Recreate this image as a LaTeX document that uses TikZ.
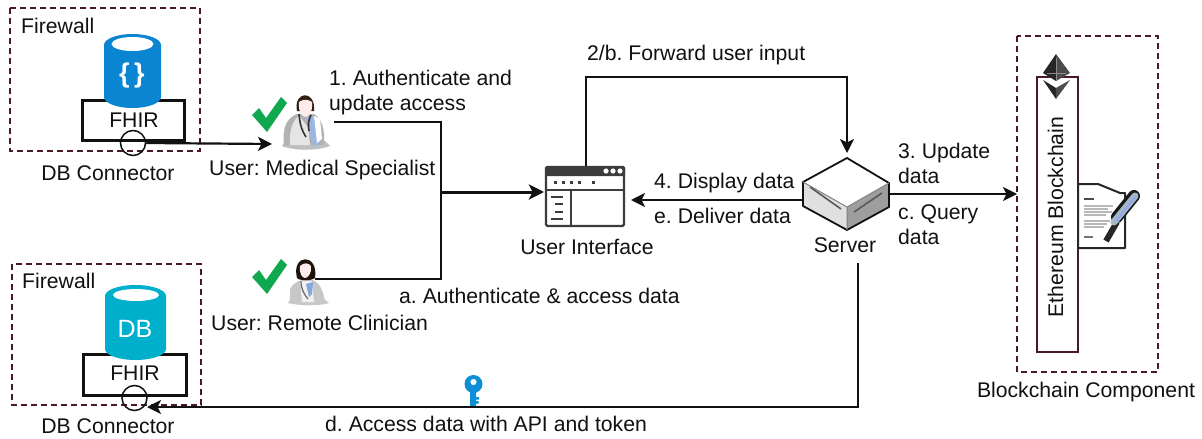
\documentclass[tikz,border=0pt]{standalone}
\usepackage{fontspec}
\setmainfont{Liberation Sans}
\usetikzlibrary{arrows.meta,calc}
\frenchspacing
\definecolor{ink}{HTML}{111111}
\definecolor{fwred}{HTML}{4A1A22}
\definecolor{dbblue}{HTML}{0A85D1}
\definecolor{dbcyan}{HTML}{00AFCB}
\definecolor{okgreen}{HTML}{0FA84E}
\definecolor{keyblue}{HTML}{0C8FD6}
\definecolor{uigrey}{HTML}{3C3C3C}
\tikzset{
  lbl/.style={anchor=base west,inner sep=0pt,font=\fontsize{21.2}{24}\selectfont,text=ink},
  clbl/.style={lbl,anchor=base},
  fw/.style={draw=fwred,line width=1.8pt,dash pattern=on 6pt off 4pt},
  wire/.style={draw=ink,line width=1.8pt},
  arr/.style={wire,-{Stealth[length=14pt,width=14pt,inset=3.5pt]}},
  fhirbox/.style={draw=ink,line width=3pt,fill=white},
  conn/.style={circle,draw=ink,line width=1.5pt,minimum size=25pt,inner sep=0pt},
  chk/.style={fill=okgreen},
}
\newcommand{\chkmark}[2]{%
  \fill[chk,shift={(#1,#2)}] (0,18) -- (7,11) -- (14,21) -- (29,0) -- (35,6) -- (15,35) -- cycle;}
\begin{document}
\begin{tikzpicture}[x=1pt,y=-1pt]
\useasboundingbox (0,0) rectangle (1202,439);
\fill[white] (0,0) rectangle (1202,439);

% ---- top-left firewall
\draw[fw] (10,8) rectangle (200,151);
\node[lbl] (fwa) at (21,33) {Firewall};
\node[fhirbox,minimum width=102pt,minimum height=40pt,inner sep=0pt] (fhira) at (133,120) {};
\fill[dbblue] (104,45) -- (104,97) arc[start angle=180,end angle=0,x radius=28.5,y radius=11] -- (161,45) arc[start angle=0,end angle=-180,x radius=28.5,y radius=11] -- cycle;
\fill[white] (132.5,44) ellipse[x radius=21,y radius=7];
\node[inner sep=0pt,text=white,font=\fontsize{27}{27}\bfseries\selectfont] (brc) at (132,76) {\{\,\}};
\node[clbl] (fhiratx) at (134,127) {FHIR};
\node[conn] (ca) at (133,143) {};
\node[clbl] (dba) at (108,180) {DB Connector};

% ---- bottom-left firewall
\draw[fw] (12,264) rectangle (201,405);
\node[lbl] (fwb) at (22,288) {Firewall};
\node[fhirbox,minimum width=103pt,minimum height=41pt,inner sep=0pt] (fhirb) at (135,375) {};
\fill[dbcyan] (105,296) -- (105,349) arc[start angle=180,end angle=0,x radius=30.5,y radius=11] -- (166,296) arc[start angle=0,end angle=-180,x radius=30.5,y radius=11] -- cycle;
\fill[white] (136,295) ellipse[x radius=23,y radius=6];
\node[clbl,text=white,font=\fontsize{25}{25}\selectfont] (dbtx) at (135,337) {DB};
\node[clbl] (fhirbtx) at (135,380) {FHIR};
\node[conn] (cb) at (134.5,398) {};
\node[clbl] (dbb) at (108,433) {DB Connector};

% ---- medical specialist
\chkmark{252}{97}
\begin{scope}[shift={(305,105)}]
  \fill[black!25] (-23,41) .. controls (-10,46) and (12,46) .. (25,41) -- (20,36) -- (-20,36) -- cycle;
  \fill[black!30] (-21,40) .. controls (-23,22) and (-18,13) .. (-8,9) -- (9,9) .. controls (17,14) and (20,24) .. (19,40) -- cycle;
  \fill[black!10] (-15,40) .. controls (-16,25) and (-12,15) .. (-6,11) -- (3,22) -- (5,40) -- cycle;
  \fill[cyan!50!blue!40] (1,13) -- (11,11) -- (14,38) -- (9,42) -- cycle;
  \fill[white] (9,11) -- (15,14) -- (17,34) -- (12,38) -- cycle;
  \draw[black!80,line width=1.6pt] (-6,9) .. controls (-5,22) and (-2,27) .. (1,32);
  \draw[black!80,line width=1.6pt] (6,10) .. controls (3,16) and (3,20) .. (4,26);
  \fill[black!75!brown] (-8,6) .. controls (-12,-14) and (11,-16) .. (9,6) -- cycle;
  \fill[red!8!white] (-6,-3) .. controls (-2,-6) and (3,-6) .. (7,-3) .. controls (8,6) and (4,12) .. (0.5,12) .. controls (-3,12) and (-7,6) .. (-6,-3) -- cycle;
\end{scope}
\coordinate (docin) at (272,144);
\node[lbl] (ms) at (209,175) {User: Medical Specialist};
\node[lbl] (s1a) at (329,85) {1. Authenticate and};
\node[lbl] (s1b) at (329,110) {update access};
\coordinate (docout) at (334,122);

% ---- remote clinician
\chkmark{252}{259}
\begin{scope}[shift={(305,267)}]
  \fill[black!22] (-17,36) .. controls (-5,39) and (15,39) .. (24,36) -- (18,31) -- (-14,31) -- cycle;
  \fill[black!22] (-15,35) -- (-15,22) .. controls (-12,16) and (-7,14) .. (-2,13) -- (8,13) .. controls (14,16) and (18,22) .. (20,35) -- cycle;
  \fill[black!6] (-5,14) -- (7,14) -- (9,35) -- (-3,35) -- cycle;
  \fill[cyan!50!blue!50] (1,17) -- (8,15) -- (7,27) -- (4,30) -- cycle;
  \draw[black!60,line width=1.2pt] (-4,14) .. controls (-4,22) and (-1,27) .. (3,32);
  \fill[black!85!brown] (-8,11) .. controls (-14,-14) and (14,-14) .. (10,11) .. controls (6,14) and (-5,14) .. (-8,11) -- cycle;
  \fill[red!8!white] (-5,-1) .. controls (-1,-5) and (4,-4) .. (6,-1) .. controls (7,6) and (3,11) .. (0,11) .. controls (-3,11) and (-6,6) .. (-5,-1) -- cycle;
\end{scope}
\coordinate (nurseout) at (315,279);
\node[lbl] (rc) at (211,330) {User: Remote Clinician};
\node[lbl] (sa) at (399,303) {a. Authenticate \& access data};

% ---- user interface icon
\fill[white,draw=uigrey,line width=2.4pt,rounded corners=1.5pt] (546,167) rectangle (624,226);
\fill[uigrey,rounded corners=1.5pt] (545,166) rectangle (625,176);
\foreach \x in {607,614,621} \fill[white] (\x-1,171) circle[radius=2.6];
\foreach \x in {555,563,571,579,593} \fill[uigrey] (\x-1.5,180.5) rectangle ++(3,3.4);
\draw[uigrey,line width=2pt] (546,189.5) -- (624,189.5) (570.5,189.5) -- (570.5,226);
\foreach \y/\a/\b in {197/551/563,204/555/563,212/555/563,219/551/563} \draw[uigrey,line width=1.6pt] (\a,\y) -- (\b,\y);
\node[inner sep=0pt,minimum width=80pt,minimum height=61pt] (ui) at (585,196.5) {};
\node[clbl] (uilbl) at (587,254) {User Interface};

% ---- server
\coordinate (srvT) at (847,158);
\coordinate (srvL) at (803,182);
\coordinate (srvR) at (889,183);
\coordinate (srvC) at (847,207);
\coordinate (srvB) at (847,230);
\coordinate (srvLB) at (803,206);
\coordinate (srvRB) at (889,207);
\fill[black!12] (srvL) -- (srvC) -- (srvB) -- (srvLB) -- cycle;
\fill[black!38] (srvR) -- (srvC) -- (srvB) -- (srvRB) -- cycle;
\fill[white] (srvT) -- (srvL) -- (srvC) -- (srvR) -- cycle;
\draw[ink,line width=1.8pt,line join=round] (srvT) -- (srvL) -- (srvLB) -- (srvB) -- (srvRB) -- (srvR) -- cycle;
\draw[black!50,line width=1pt] (srvL) -- (srvC) -- (srvR) (srvC) -- (srvB);
\draw[black!65,line width=1.6pt] (810,187) -- (841,209) (854,212) -- (882,193);
\node[inner sep=0pt,minimum width=86pt,minimum height=72pt] (srv) at (846,194) {};
\node[clbl] (srvlbl) at (845,252) {Server};

% ---- blockchain
\draw[fw] (1017,36) rectangle (1158,372);
\fill[white,draw=fwred,line width=1.6pt] (1037,77) rectangle (1078,352);
\node[rotate=90,anchor=base,inner sep=0pt,font=\fontsize{21.2}{24}\selectfont,text=ink] (eth) at (1063,217) {Ethereum Blockchain};
\node[inner sep=0pt,minimum width=41pt,minimum height=275pt] (chain) at (1057.5,214.5) {};
\fill[black!85] (1056,54) -- (1043,73) -- (1056,81) -- cycle;
\fill[black!70] (1056,54) -- (1070,73) -- (1056,81) -- cycle;
\fill[black!85] (1043,80) -- (1056,99) -- (1056,88) -- cycle;
\fill[black!70] (1070,80) -- (1056,99) -- (1056,88) -- cycle;
\draw[black!45,line width=.8pt] (1056,58) -- (1056,80) (1047,73) -- (1066,73);
\filldraw[fill=white,draw=black!85,line width=2pt,line join=round] (1078,184) -- (1098,184) -- (1120,193) -- (1125,193) -- (1125,248) -- (1078,248) -- cycle;
\fill[black!70] (1084,198) rectangle (1094,200);
\foreach \y/\e in {205/1113,208/1108,211/1112,214/1106,220/1110,223/1107,226/1104} \fill[black!28] (1084,\y) rectangle (\e,\y+1.6);
\fill[black!55] (1084,236) rectangle (1093,238);
\draw[black!90,line width=12pt,line cap=round] (1117,217) -- (1134,196);
\draw[black!85,line width=6pt] (1106,241) -- (1117,222);
\draw[black!55!cyan!45,line width=7pt,line cap=round] (1114,222) -- (1135,196);
\draw[white!60!blue,line width=1.4pt] (1116,221) -- (1135,197);
\node[clbl] (bclbl) at (1086,397) {Blockchain Component};

% ---- labels around the server
\node[lbl] (s2) at (587,60) {2/b. Forward user input};
\node[lbl] (s4) at (654,188) {4. Display data};
\node[lbl] (se) at (654,223) {e. Deliver data};
\node[lbl] (s3a) at (898,158) {3. Update};
\node[lbl] (s3b) at (898,183) {data};
\node[lbl] (sca) at (898,219) {c. Query};
\node[lbl] (scb) at (898,244) {data};
\node[lbl] (sd) at (325,431) {d. Access data with API and token};

% ---- key
\fill[keyblue] (470,392) rectangle (476,406) (476,397) rectangle (479,399.5) (476,401) rectangle (478.5,403.5);
\fill[keyblue,even odd rule] (473.5,384) circle[radius=9] (473.5,382) circle[radius=3.2];

% ---- connectors
\coordinate (corner2a) at (586,77);
\coordinate (corner2b) at (847,77);
\coordinate (j1) at (441,122);
\coordinate (j2) at (441,279);
\coordinate (jm) at (441,192);
\coordinate (uiN) at (586,166);
\coordinate (srvTop) at (847,153);
\coordinate (srvE) at (889,194);
\coordinate (chainIn) at (1017,194);
\coordinate (srvW) at (803,200);
\coordinate (uiE) at (631,200);
\coordinate (uiW) at (544,192);
\coordinate (srvS) at (858,263);
\coordinate (d1) at (858,407);
\coordinate (cbE) at (147,407);
\coordinate (caE) at (ca.east);

\draw[wire] (docout) -- (j1) -- (j2) -- (nurseout);
\draw[arr,line width=3pt,-{Stealth[length=15pt,width=15pt,inset=3.5pt]}] (jm) -- (uiW);
\draw[arr] (uiN) -- (corner2a) -- (corner2b) -- (srvTop);
\draw[arr] (srvW) -- (uiE);
\draw[arr] (srvE) -- (chainIn);
\draw[arr] (srvS) -- (d1) -- (cbE);
\draw[arr,line width=2.2pt] (caE) -- (docin);
\end{tikzpicture}
\end{document}
